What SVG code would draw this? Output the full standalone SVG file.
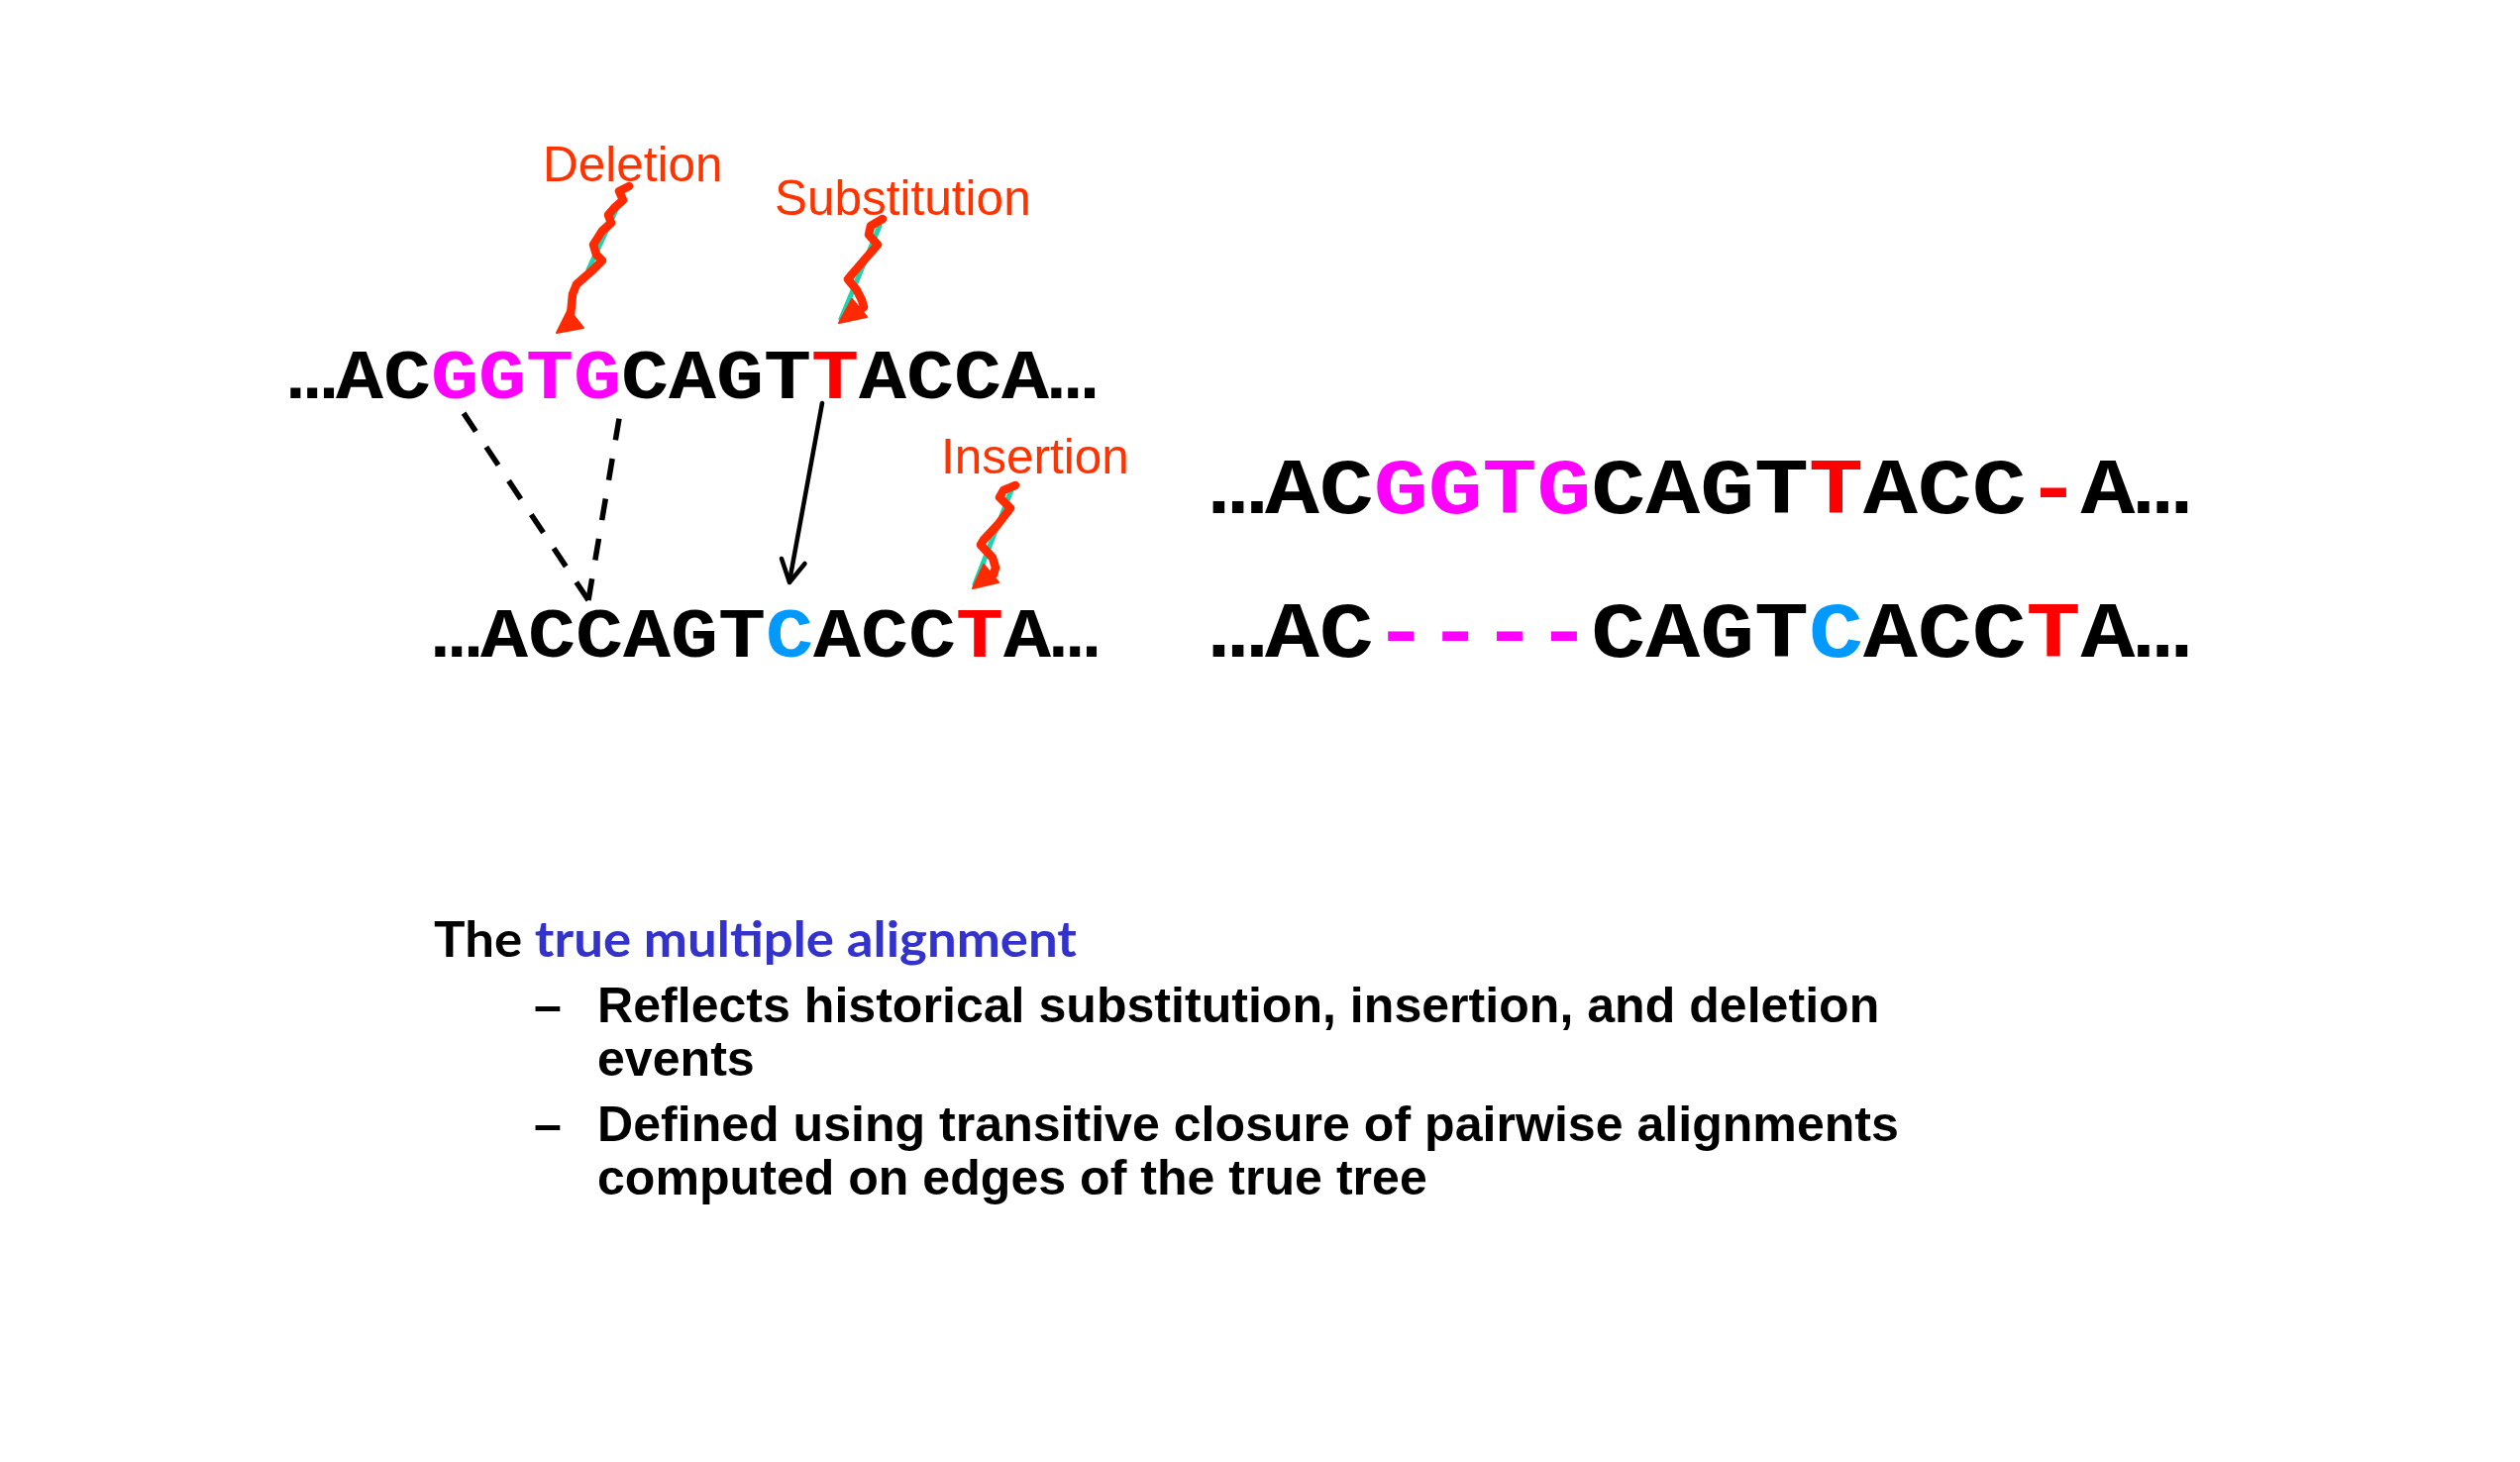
<svg xmlns="http://www.w3.org/2000/svg" width="2544" height="1476" viewBox="0 0 2544 1476">
  <style>
    .seq { font-family: "Liberation Mono", "DejaVu Sans Mono", monospace; font-weight: bold; fill: #000000; }
    .seqL { font-size: 80px; }
    .seqR { font-size: 91.5px; }
    .mag { fill: #FF00FF; }
    .red { fill: #FF0000; }
    .blu { fill: #0099FF; }
    .lbl { font-family: "Liberation Sans", Arial, sans-serif; font-size: 49.5px; fill: #FF3300; }
    .squig { fill: none; stroke: #FF2A00; stroke-width: 8.5; stroke-linejoin: round; stroke-linecap: round; }
    .shadow { fill: none; stroke: #1FD3B0; stroke-width: 5; stroke-linecap: round; }
    .head { fill: #FF2A00; stroke: #FF2A00; stroke-width: 2; stroke-linejoin: round; }
    .dash { fill: none; stroke: #000000; stroke-width: 5.5; stroke-dasharray: 22 19; }
    .solid { fill: none; stroke: #000000; stroke-width: 4.5; stroke-linecap: round; stroke-linejoin: round; }
    .title { font-family: Lato, "Liberation Sans", sans-serif; font-weight: bold; font-size: 50px; fill: #000000; }
    .blue { fill: #3333CC; }
    .bul { font-family: "Liberation Sans", Arial, sans-serif; font-weight: bold; font-size: 50.1px; fill: #000000; }
  </style>

  <rect x="0" y="0" width="2544" height="1476" fill="#FFFFFF"/>

  <g id="seq-ancestor">
    <text class="seq seqL" transform="translate(291,402) scale(1,0.87)" x="0" y="0">…AC<tspan class="mag">GGTG</tspan>CAGT<tspan class="red">T</tspan>ACCA…</text>
  </g>

  <g id="seq-descendant">
    <text class="seq seqL" transform="translate(437,663) scale(1,0.87)" x="0" y="0">…ACCAGT<tspan class="blu">C</tspan>ACC<tspan class="red">T</tspan>A…</text>
  </g>

  <g id="aligned-ancestor">
    <text class="seq seqR" transform="translate(1222,518) scale(1,0.87)" x="0" y="0">…AC<tspan class="mag">GGTG</tspan>CAGT<tspan class="red">T</tspan>ACC<tspan class="red">-</tspan>A…</text>
  </g>

  <g id="aligned-descendant">
    <text class="seq seqR" transform="translate(1222,663) scale(1,0.87)" x="0" y="0">…AC<tspan class="mag">----</tspan>CAGT<tspan class="blu">C</tspan>ACC<tspan class="red">T</tspan>A…</text>
  </g>

  <g id="label-deletion">
    <text class="lbl" x="548" y="183">Deletion</text>
  </g>
  <g id="label-substitution">
    <text class="lbl" x="782" y="217">Substitution</text>
  </g>
  <g id="label-insertion">
    <text class="lbl" x="950" y="478">Insertion</text>
  </g>

  <g id="connectors">
    <!-- deletion squiggle -->
    <path class="shadow" d="M622,212 L594,272"/>
    <path class="squig" d="M635,188 L625,193 L629,202 L620,210 L614,217 L617,225 L608,233 L599,247 L602,257 L608,263 L598,273 L582,287 L578,297 L576,318"/>
    <polygon class="head" points="562,336 574,312 589,331"/>
    <!-- substitution squiggle -->
    <path class="shadow" d="M888,228 L849,322"/>
    <path class="squig" d="M891,221 L879,228 L877,237 L886,247 L872,263 L860,277 L856,282 L865,293 L870,303 L872,310 L867,314"/>
    <polygon class="head" points="847,326 860,302 875,320"/>
    <!-- insertion squiggle -->
    <path class="shadow" d="M1021,495 L984,590"/>
    <path class="squig" d="M1025,490 L1013,495 L1009,502 L1020,513 L1007,530 L993,545 L990,550 L1002,563 L1005,573 L1003,580"/>
    <polygon class="head" points="982,594 993,570 1008,588"/>
    <!-- dashed deletion mapping -->
    <path class="dash" d="M594,606 L460,405"/>
    <path class="dash" d="M594,606 L628,405"/>
    <!-- substitution mapping arrow -->
    <path class="solid" d="M830,407 L797,587"/>
    <polyline class="solid" points="789,564 797,588 812.5,569"/>
  </g>

  <g id="caption">
    <text class="title" x="438" y="966" textLength="649" lengthAdjust="spacingAndGlyphs">The <tspan class="blue">true multiple alignment</tspan></text>
    <text class="bul" x="539" y="1032">–</text>
    <text class="bul" x="603" y="1032">Reflects historical substitution, insertion, and deletion</text>
    <text class="bul" x="603" y="1086">events</text>
    <text class="bul" x="539" y="1152">–</text>
    <text class="bul" x="603" y="1152">Defined using transitive closure of pairwise alignments</text>
    <text class="bul" x="603" y="1206">computed on edges of the true tree</text>
  </g>
</svg>
